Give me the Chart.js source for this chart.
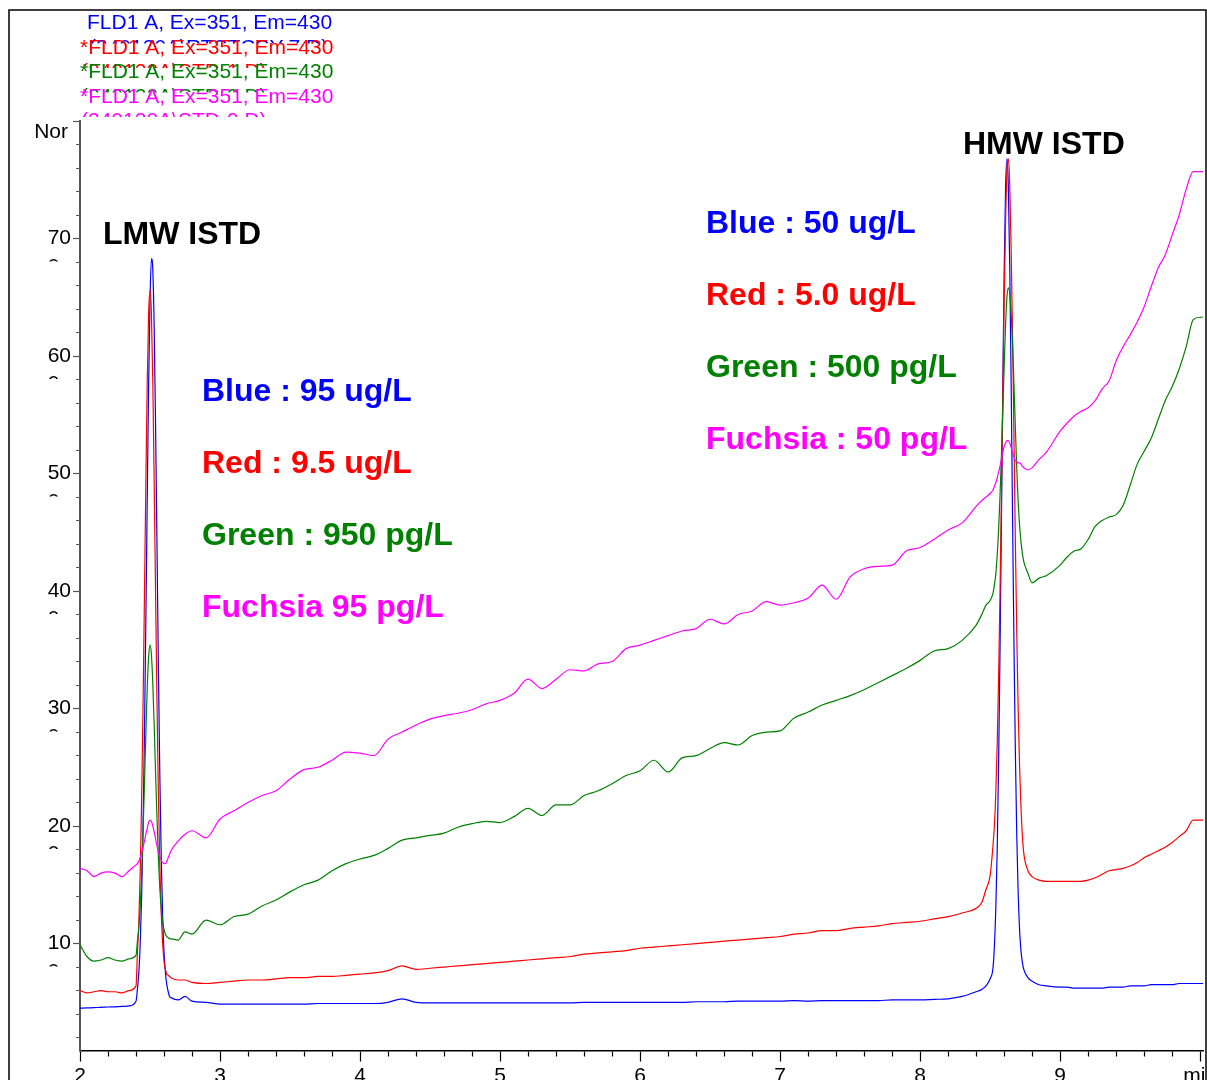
<!DOCTYPE html>
<html>
<head>
<meta charset="utf-8">
<title>FLD chromatogram overlay</title>
<script src="https://cdn.jsdelivr.net/npm/chart.js@4.4.1/dist/chart.umd.min.js"></script>
<style>
  html, body { margin: 0; padding: 0; background: #ffffff; }
  canvas { display: block; }
</style>
</head>
<body>
<canvas id="chrom" width="1207" height="1080"></canvas>
<script>
// Retention time (min) shared by all four traces
const timeMin = [
  2.00, 2.05, 2.10, 2.15, 2.20, 2.25, 2.30, 2.35, 2.40,
  2.41, 2.42, 2.43, 2.44, 2.45, 2.46, 2.47, 2.48, 2.49, 2.50, 2.51, 2.52,
  2.53, 2.54, 2.55, 2.56, 2.57, 2.58, 2.59, 2.60, 2.61, 2.62, 2.63, 2.64,
  2.65, 2.70, 2.75, 2.80,
  2.9, 3.0, 3.1, 3.2, 3.3, 3.4, 3.5, 3.6, 3.7, 3.8,
  3.9, 4.0, 4.1, 4.2, 4.3, 4.4, 4.5, 4.6, 4.7, 4.8,
  4.9, 5.0, 5.1, 5.2, 5.3, 5.4, 5.5, 5.6, 5.7, 5.8,
  5.9, 6.0, 6.1, 6.2, 6.3, 6.4, 6.5, 6.6, 6.7, 6.8,
  6.9, 7.0, 7.1, 7.2, 7.3, 7.4, 7.5, 7.6, 7.7, 7.8,
  7.9, 8.0, 8.1, 8.2, 8.3, 8.4,
  8.44, 8.47, 8.50,
  8.52, 8.53, 8.54, 8.55, 8.56, 8.57, 8.58, 8.59, 8.60, 8.61, 8.62, 8.63,
  8.64, 8.65, 8.66, 8.67, 8.68, 8.69, 8.70, 8.71, 8.72, 8.73, 8.74,
  8.77, 8.80, 8.85, 8.90,
  9.00, 9.05, 9.10, 9.15, 9.20, 9.25, 9.30, 9.35, 9.40, 9.45, 9.50,
  9.55, 9.60, 9.65, 9.70, 9.75, 9.80, 9.85, 9.90, 9.95, 10.00, 10.04
];

// Fluorescence signal, one array per standard level
const blueSignal = [
  4.5, 4.52, 4.55, 4.57, 4.6, 4.62, 4.65, 4.7, 5.1,
  6.1, 7.5, 10.0, 13.9, 19.8, 27.6, 37.2, 47.6, 57.4, 64.7, 68.3, 67.3,
  62.3, 53.8, 43.7, 33.4, 24.4, 17.5, 12.5, 9.3, 7.5, 6.5, 5.9, 5.5,
  5.4, 5.2, 5.5, 5.1,
  5.0, 4.85, 4.85, 4.85, 4.85, 4.85, 4.85, 4.85, 4.9, 4.9,
  4.9, 4.9, 4.9, 5.0, 5.3, 5.0, 4.95, 4.95, 4.95, 4.95,
  4.95, 4.95, 4.95, 4.95, 4.95, 4.95, 4.95, 5.0, 5.0, 5.0,
  5.0, 5.0, 5.0, 5.0, 5.0, 5.05, 5.05, 5.05, 5.1, 5.1,
  5.1, 5.1, 5.15, 5.1, 5.15, 5.15, 5.15, 5.15, 5.15, 5.2,
  5.2, 5.2, 5.25, 5.3, 5.5, 5.9,
  6.1, 6.4, 7.0,
  7.9, 9.7, 12.9, 17.8, 25.1, 34.5, 45.4, 57.0, 67.2, 74.3, 76.8, 74.3,
  67.5, 57.6, 46.2, 35.5, 26.3, 19.2, 14.3, 11.2, 9.4, 8.4, 7.8,
  7.1, 6.8, 6.5, 6.4,
  6.3, 6.3, 6.2, 6.2, 6.2, 6.2, 6.2, 6.3, 6.3, 6.3, 6.4,
  6.4, 6.4, 6.5, 6.5, 6.5, 6.5, 6.6, 6.6, 6.6, 6.6, 6.6
];

const redSignal = [
  6.0, 5.8, 5.9, 6.0, 5.9, 5.9, 5.8, 6.0, 6.4,
  9.2, 11.8, 16.0, 22.1, 30.0, 39.3, 48.9, 57.6, 63.6, 65.6, 63.6, 57.7,
  49.1, 39.5, 30.4, 22.6, 16.7, 12.6, 10.1, 8.5, 7.8, 7.4, 7.3, 7.2,
  7.1, 6.9, 6.9, 6.7,
  6.6, 6.7, 6.8, 6.9, 6.9, 7.0, 7.1, 7.1, 7.2, 7.2,
  7.3, 7.4, 7.5, 7.7, 8.1, 7.8, 7.9, 8.0, 8.1, 8.2,
  8.3, 8.4, 8.5, 8.6, 8.7, 8.8, 8.9, 9.1, 9.2, 9.3,
  9.4, 9.6, 9.7, 9.8, 9.9, 10.0, 10.1, 10.2, 10.3, 10.4,
  10.5, 10.6, 10.8, 10.9, 11.1, 11.1, 11.3, 11.4, 11.5, 11.7,
  11.8, 11.9, 12.1, 12.3, 12.6, 13.0,
  13.5, 14.6, 15.8,
  18.3, 20.0, 22.7, 26.8, 32.4, 39.6, 47.7, 56.2, 64.7, 71.4, 75.8, 76.8,
  74.5, 69.0, 61.7, 53.1, 44.1, 36.4, 30.0, 25.1, 21.6, 19.2, 17.7,
  16.2, 15.7, 15.4, 15.3,
  15.3, 15.3, 15.3, 15.3, 15.4, 15.6, 15.9, 16.2, 16.3, 16.4, 16.6,
  16.9, 17.3, 17.6, 17.9, 18.2, 18.6, 19.1, 19.6, 20.5, 20.5, 20.5
];

const greenSignal = [
  9.9, 8.9, 8.5, 8.6, 8.8, 8.6, 8.5, 8.7, 9.0,
  10.2, 11.3, 13.1, 15.8, 19.4, 23.5, 27.8, 31.7, 34.4, 35.4, 34.6, 32.1,
  28.5, 24.4, 20.6, 17.3, 14.7, 13.0, 11.9, 11.2, 10.8, 10.6, 10.5, 10.4,
  10.4, 10.3, 11.0, 10.8,
  12.0, 11.6, 12.3, 12.5, 13.2, 13.7, 14.4, 15.0, 15.4, 16.2,
  16.8, 17.2, 17.5, 18.1, 18.8, 19.0, 19.2, 19.4, 19.9, 20.2,
  20.4, 20.3, 20.8, 21.5, 20.9, 21.8, 21.8, 22.6, 23.0, 23.6,
  24.3, 24.7, 25.6, 24.6, 25.8, 26.0, 26.6, 27.1, 26.9, 27.7,
  28.0, 28.1, 29.2, 29.7, 30.3, 30.7, 31.1, 31.6, 32.2, 32.8,
  33.4, 34.1, 34.9, 35.1, 35.8, 37.1,
  38.0, 38.8, 39.2,
  39.8, 40.5, 41.4, 43.0, 45.1, 48.0, 51.4, 55.3, 59.1, 62.6, 65.0, 65.8,
  65.3, 63.6, 61.0, 57.6, 53.9, 50.4, 47.6, 45.6, 44.2, 43.2, 42.5,
  41.5, 40.7, 41.1, 41.3,
  42.2, 42.9, 43.4, 43.6, 44.4, 45.5, 46.0, 46.3, 46.5, 47.3, 49.0,
  50.8, 51.9, 53.0, 54.6, 56.2, 57.4, 58.9, 60.8, 63.1, 63.3, 63.3
];

const fuchsiaSignal = [
  16.4, 16.2, 15.7, 16.0, 16.1, 16.0, 15.7, 16.2, 16.7,
  16.8, 17.0, 17.3, 17.7, 18.2, 18.7, 19.3, 19.8, 20.3, 20.5, 20.4, 20.0,
  19.5, 18.9, 18.3, 17.8, 17.4, 17.1, 16.9, 16.8, 16.8, 17.0, 17.3, 17.6,
  17.9, 18.7, 19.3, 19.6,
  19.0, 20.6, 21.3, 22.0, 22.6, 23.0, 24.0, 24.8, 25.0, 25.6,
  26.3, 26.2, 26.0, 27.4, 28.0, 28.6, 29.1, 29.4, 29.6, 29.9,
  30.4, 30.7, 31.3, 32.5, 31.7, 32.5, 33.3, 33.2, 33.8, 34.0,
  35.1, 35.4, 35.8, 36.2, 36.6, 36.8, 37.6, 37.2, 38.0, 38.3,
  39.1, 38.8, 39.0, 39.4, 40.5, 39.3, 41.2, 41.9, 42.1, 42.2,
  43.4, 43.7, 44.4, 45.2, 45.8, 47.2,
  47.7, 48.0, 48.3,
  48.6, 48.9, 49.2, 49.6, 50.1, 50.6, 51.2, 51.8, 52.3, 52.6, 52.8, 52.8,
  52.6, 52.2, 51.8, 51.4, 51.1, 51.0, 50.9, 50.9, 50.8, 50.6, 50.5,
  50.3, 50.5, 51.2, 51.8,
  53.6, 54.3, 54.9, 55.3, 55.6, 56.2, 57.2, 57.9, 59.6, 60.8, 61.8,
  62.9, 64.2, 65.9, 67.5, 68.6, 70.3, 72.0, 74.2, 75.7, 75.7, 75.7
];

// Signal header and data file of each trace
const traceLabels = [
  'FLD1 A, Ex=351, Em=430',
  '*FLD1 A, Ex=351, Em=430',
  '*FLD1 A, Ex=351, Em=430',
  '*FLD1 A, Ex=351, Em=430'
];
const traceFiles = [
  '(240120A\\RTSTCSY-7.D)',
  '(240120A\\STD-1.D)',
  '(240120A\\STD-3.D)',
  '(240120A\\STD-9.D)'
];

// Axis tick labels
const xMajorTicks = [2, 3, 4, 5, 6, 7, 8, 9, 10];
const xTickLabels = ['2', '3', '4', '5', '6', '7', '8', '9', 'min'];
const yMajorTicks = [10, 20, 30, 40, 50, 60, 70];
const yTickLabels = ['10', '20', '30', '40', '50', '60', '70'];
const yAxisTitle = 'Nor';

// Peak and concentration annotations
const peakNames = ['LMW ISTD', 'HMW ISTD'];
const lmwLevels = ['Blue : 95 ug/L', 'Red : 9.5 ug/L', 'Green : 950 pg/L', 'Fuchsia 95 pg/L'];
const hmwLevels = ['Blue : 50 ug/L', 'Red : 5.0 ug/L', 'Green : 500 pg/L', 'Fuchsia : 50 pg/L'];

// ---- styling ----
const FONT = '"Liberation Sans", Arial, Helvetica, sans-serif';
const traceColors = ['#0000ff', '#ff0000', '#008000', '#ff00ff'];
const signals = [blueSignal, redSignal, greenSignal, fuchsiaSignal];

const toPoints = ys => timeMin.map((t, i) => ({ x: t, y: ys[i] }));
const near = (a, b) => Math.abs(a - b) < 1e-6;

const xTickValues = [];
for (let k = 0; k <= 40; k++) xTickValues.push(+(2 + k * 0.2).toFixed(1));
const yTickValues = [];
for (let v = 2; v <= 80; v += 2) yTickValues.push(v);

const decorations = {
  id: 'decorations',
  afterDraw(chart) {
    const c = chart.ctx;
    const yScale = chart.scales.y;
    c.save();

    // keep the right edge clean beyond the frame
    c.fillStyle = '#ffffff';
    c.fillRect(1206.8, 0, 10, 1080);

    // outer frame
    c.strokeStyle = '#000000';
    c.lineWidth = 1.5;
    c.strokeRect(9, 10, 1197, 1100);

    // trace headers, file name line cut by the next header
    c.font = '21px ' + FONT;
    c.textAlign = 'left';
    c.textBaseline = 'alphabetic';
    traceLabels.forEach((lab, i) => {
      const base = 29 + i * 24.5;
      c.fillStyle = traceColors[i];
      c.fillText(lab, i === 0 ? 87 : 80, base);
      const base2 = base + 24.5;
      c.save();
      c.beginPath();
      c.rect(0, base2 - 16, 700, 6);
      c.clip();
      c.fillText(traceFiles[i], i === 0 ? 89 : 81, base2);
      c.restore();
    });

    // y axis title
    c.fillStyle = '#000000';
    c.textAlign = 'right';
    c.fillText(yAxisTitle, 68, 138);

    // clipped second row under each y label
    c.textAlign = 'left';
    yTickLabels.forEach((lab, i) => {
      const py = yScale.getPixelForValue(yMajorTicks[i]);
      const w = c.measureText(lab).width;
      const left = 71 - w;
      c.save();
      c.beginPath();
      c.rect(left - 2, py + 18.5, 24, 4.5);
      c.clip();
      c.fillText('0', left, py + 34);
      c.restore();
    });

    // peak names
    c.font = 'bold 32px ' + FONT;
    c.fillStyle = '#000000';
    c.fillText(peakNames[0], 103, 244);
    c.fillText(peakNames[1], 963, 154);

    // concentration levels
    lmwLevels.forEach((t, i) => {
      c.fillStyle = traceColors[i];
      c.fillText(t, 202, 400.5 + i * 72);
    });
    hmwLevels.forEach((t, i) => {
      c.fillStyle = traceColors[i];
      c.fillText(t, 706, 232.5 + i * 72);
    });

    c.restore();
  }
};

Chart.defaults.font.family = FONT;
Chart.defaults.color = '#000000';

new Chart(document.getElementById('chrom'), {
  type: 'line',
  data: {
    datasets: signals.map((ys, i) => ({
      label: traceLabels[i],
      data: toPoints(ys),
      borderColor: traceColors[i],
      borderWidth: 1.2,
      pointRadius: 0,
      fill: false,
      cubicInterpolationMode: 'monotone',
      order: 4 - i
    }))
  },
  options: {
    responsive: false,
    animation: false,
    devicePixelRatio: 1,
    layout: { padding: { left: 0, top: 121, right: 4, bottom: 0 } },
    plugins: { legend: { display: false }, tooltip: { enabled: false } },
    scales: {
      x: {
        type: 'linear',
        min: 2,
        max: 10.02,
        afterBuildTicks: s => { s.ticks = xTickValues.map(v => ({ value: v })); },
        afterFit: s => { s.height = 29.5; s.paddingLeft = 0; s.paddingRight = 0; },
        border: { color: '#000000', width: 1.5 },
        grid: {
          drawOnChartArea: false,
          tickLength: 11,
          tickColor: '#000000',
          tickWidth: 1.2,
          tickBorderDash: ctx => xMajorTicks.some(v => near(v, ctx.tick.value)) ? [] : [5, 100]
        },
        ticks: {
          autoSkip: false,
          maxRotation: 0,
          padding: 2,
          font: { size: 21 },
          color: '#000000',
          callback: v => {
            const k = xMajorTicks.findIndex(m => near(m, v));
            return k >= 0 ? xTickLabels[k] : '';
          }
        }
      },
      y: {
        type: 'linear',
        min: 0.9,
        max: 80,
        afterBuildTicks: s => { s.ticks = yTickValues.map(v => ({ value: v })); },
        afterFit: s => { s.width = 80; s.paddingTop = 0; s.paddingBottom = 0; },
        border: { color: '#555555', width: 2 },
        grid: {
          drawOnChartArea: false,
          tickLength: 7,
          tickColor: '#555555',
          tickWidth: 1.2,
          tickBorderDash: ctx => (ctx.tick.value % 10 === 0) ? [] : [0, 3, 4, 100]
        },
        ticks: {
          autoSkip: false,
          padding: 2,
          font: { size: 21 },
          color: '#000000',
          callback: v => {
            const k = yMajorTicks.indexOf(v);
            return k >= 0 ? yTickLabels[k] : '';
          }
        }
      }
    }
  },
  plugins: [decorations]
});
</script>
</body>
</html>
